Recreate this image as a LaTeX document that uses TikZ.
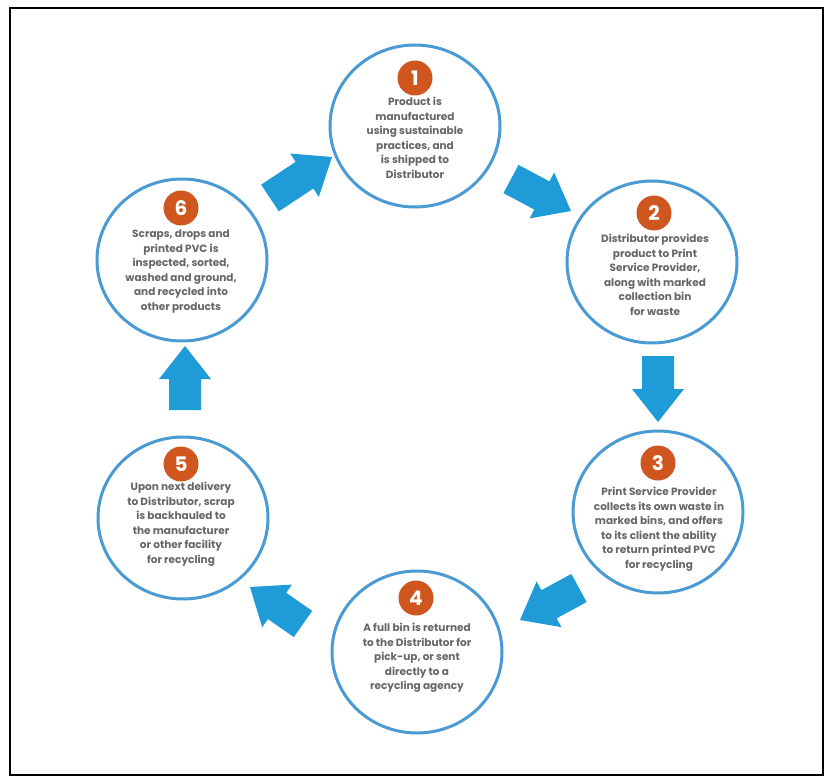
\documentclass[tikz,border=0pt]{standalone}
\usepackage{fontspec}
\setmainfont{Poppins}
\usetikzlibrary{calc,shapes.geometric}
\definecolor{ringblue}{HTML}{4A9AD4}
\definecolor{arrblue}{HTML}{1F9BD7}
\definecolor{badgeorange}{HTML}{D0561F}
\definecolor{txtgray}{HTML}{666666}
\tikzset{
  ring/.style={draw=ringblue, line width=3pt, ellipse, minimum width=170pt, minimum height=162pt, inner sep=0pt},
  numbadge/.style={circle, fill=badgeorange, minimum size=35pt, inner sep=0pt, text=white, font=\bfseries\fontsize{20}{20}\selectfont},
  desc/.style={align=center, text=txtgray, font=\bfseries\fontsize{10.5}{14.5}\selectfont, inner sep=0pt, anchor=north},
  frame/.style={draw=black, line width=1.8pt}
}
\newcommand\blockarrow[3]{%
  \coordinate (#3hb) at ($(#2)!33pt!(#1)$);
  \fill[arrblue] ($(#1)!16pt!90:(#2)$) -- ($(#3hb)!16pt!-90:(#1)$) -- ($(#3hb)!26pt!-90:(#1)$) -- (#2)
     -- ($(#3hb)!26pt!90:(#1)$) -- ($(#3hb)!16pt!90:(#1)$) -- ($(#1)!16pt!-90:(#2)$) -- cycle;
}
\begin{document}
\begin{tikzpicture}[x=1pt,y=-1pt]
\useasboundingbox (0,0) rectangle (827,778);
\fill[white] (0,0) rectangle (827,778);
\draw[frame] (10,8) rectangle (823,775);

% circles
\node[ring] (c1) at (415,126) {};
\node[ring] (c2) at (652,262) {};
\node[ring] (c3) at (658,512) {};
\node[ring] (c4) at (417,652) {};
\node[ring] (c5) at (183,518) {};
\node[ring] (c6) at (182,260) {};

% badges
\node[numbadge] (b1) at (415,78) {1};
\node[numbadge] (b2) at (654,213) {2};
\node[numbadge] (b3) at (658,463) {3};
\node[numbadge] (b4) at (416,598) {4};
\node[numbadge] (b5) at (181,464) {5};
\node[numbadge] (b6) at (181,208) {6};

% texts
\node[desc] (t1) at (415,97) {Product is\\manufactured\\using sustainable\\practices, and\\is shipped to\\Distributor};
\node[desc] (t2) at (655,234) {Distributor provides\\product to Print\\Service Provider,\\along with marked\\collection bin\\for waste};
\node[desc] (t3) at (659,487) {Print Service Provider\\collects its own waste in\\marked bins, and offers\\to its client the ability\\to return printed PVC\\for recycling};
\node[desc] (t4) at (417,623) {A full bin is returned\\to the Distributor for\\pick-up, or sent\\directly to a\\recycling agency};
\node[desc] (t5) at (181,482) {Upon next delivery\\to Distributor, scrap\\is backhauled to\\the manufacturer\\or other facility\\for recycling};
\node[desc] (t6) at (181,230) {Scraps, drops and\\printed PVC is\\inspected, sorted,\\washed and ground,\\and recycled into\\other products};

% arrows
\coordinate (a1t) at (511,179);
\coordinate (a1h) at (571,211);
\coordinate (a2t) at (658,356);
\coordinate (a2h) at (658,422);
\coordinate (a3t) at (579,588);
\coordinate (a3h) at (520,620);
\coordinate (a4t) at (303,624);
\coordinate (a4h) at (250,587);
\coordinate (a5t) at (185,410);
\coordinate (a5h) at (185,346);
\coordinate (a6t) at (270,198);
\coordinate (a6h) at (332,157);
\blockarrow{a1t}{a1h}{A}
\blockarrow{a2t}{a2h}{B}
\blockarrow{a3t}{a3h}{C}
\blockarrow{a4t}{a4h}{D}
\blockarrow{a5t}{a5h}{E}
\blockarrow{a6t}{a6h}{F}
\end{tikzpicture}
\end{document}
